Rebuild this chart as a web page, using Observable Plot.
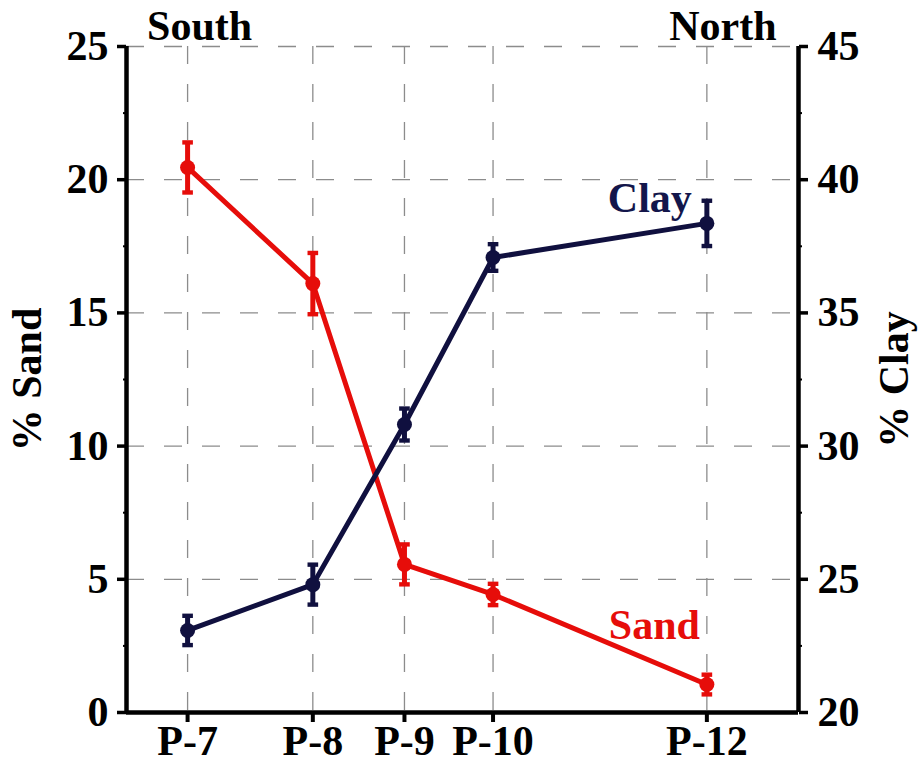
<!DOCTYPE html>
<html>
<head>
<meta charset="utf-8">
<script src="https://cdn.jsdelivr.net/npm/d3@7"></script>
<script src="https://cdn.jsdelivr.net/npm/@observablehq/plot@0.6"></script>
<style>
  html, body { margin: 0; padding: 0; background: #fff; }
  #chart svg { display: block; }
</style>
</head>
<body>
<div id="chart"></div>
<script>
// ---- data ----
const stations   = ["P-7", "P-8", "P-9", "P-10", "P-12"];
const stationPos = [1, 3.05, 4.55, 6, 9.5];          // relative distance along transect
const sandMean   = [20.46, 16.1, 5.56, 4.43, 1.05];   // % Sand (left axis)
const sandErr    = [0.94, 1.15, 0.75, 0.4, 0.37];
const clayMean   = [23.08, 24.8, 30.81, 37.08, 38.36]; // % Clay (right axis)
const clayErr    = [0.55, 0.75, 0.6, 0.5, 0.85];
const sandTicks  = [0, 5, 10, 15, 20, 25];
const clayTicks  = [20, 25, 30, 35, 40, 45];
const minorTicks = [2.5, 7.5, 12.5, 17.5, 22.5];
const clayOffset = clayTicks[0] - sandTicks[0];        // right axis = left axis + 20
const xDomain    = [0, 11];
const endLabels  = ["South", "North"];

const RED = "#e60d0a";
const NAVY = "#10103f";
const FONT = "'Liberation Serif', 'Times New Roman', serif";

const sand = stations.map((s, i) => ({s, x: stationPos[i], y: sandMean[i], lo: sandMean[i] - sandErr[i], hi: sandMean[i] + sandErr[i]}));
const clay = stations.map((s, i) => ({s, x: stationPos[i], y: clayMean[i] - clayOffset, lo: clayMean[i] - clayErr[i] - clayOffset, hi: clayMean[i] + clayErr[i] - clayOffset}));

// horizontal cap symbol for error bars
const capSymbol = {
  draw(ctx, size) {
    const w = Math.sqrt(size) / 2, h = 2.2;
    ctx.moveTo(-w, -h); ctx.lineTo(w, -h); ctx.lineTo(w, h); ctx.lineTo(-w, h); ctx.closePath();
  }
};

const axisText = {fontSize: 42, fontWeight: "bold", fontFamily: FONT};

const chart = Plot.plot({
  width: 922,
  height: 768,
  marginLeft: 126,
  marginRight: 124,
  marginTop: 46,
  marginBottom: 56,
  style: {fontFamily: FONT, fontWeight: "bold", color: "#000", background: "#fff", overflow: "visible"},
  x: {domain: xDomain},
  y: {domain: [sandTicks[0], sandTicks[sandTicks.length - 1]]},
  marks: [
    // dashed grid
    Plot.ruleY(sandTicks.slice(1), {stroke: "#8c8c8c", strokeWidth: 1.3, strokeDasharray: "18,20"}),
    Plot.ruleX(stationPos, {stroke: "#8c8c8c", strokeWidth: 1.3, strokeDasharray: "18,20"}),
    // minor ticks
    Plot.axisY({anchor: "left", ticks: minorTicks, tickSize: 3, text: null, label: null, strokeWidth: 2}),
    Plot.axisY({anchor: "right", ticks: minorTicks, tickSize: 3, text: null, label: null, strokeWidth: 2}),
    // left axis (% Sand)
    Plot.axisY({anchor: "left", ticks: sandTicks, tickSize: 9, tickPadding: 9, strokeWidth: 3.5,
      tickFormat: d => d, label: null, ...axisText}),
    // right axis (% Clay)
    Plot.axisY({anchor: "right", ticks: sandTicks, tickSize: 9, tickPadding: 10, strokeWidth: 3.5,
      tickFormat: d => d + clayOffset, label: null, ...axisText}),
    // x axis
    Plot.axisX({anchor: "bottom", ticks: stationPos, tickSize: 10, tickPadding: 3, strokeWidth: 4,
      tickFormat: (d) => stations[stationPos.indexOf(d)], label: null, ...axisText}),
    // axis lines
    Plot.ruleX([xDomain[0]], {strokeWidth: 4.5, stroke: "#000"}),
    Plot.ruleX([xDomain[1]], {strokeWidth: 4.5, stroke: "#000"}),
    Plot.ruleY([sandTicks[0]], {strokeWidth: 4.5, stroke: "#000"}),
    // Sand series
    Plot.line(sand, {x: "x", y: "y", stroke: RED, strokeWidth: 5}),
    Plot.ruleX(sand, {x: "x", y1: "lo", y2: "hi", stroke: RED, strokeWidth: 5}),
    Plot.dot(sand, {x: "x", y: "lo", symbol: capSymbol, r: 6, fill: RED, stroke: "none"}),
    Plot.dot(sand, {x: "x", y: "hi", symbol: capSymbol, r: 6, fill: RED, stroke: "none"}),
    Plot.dot(sand, {x: "x", y: "y", r: 7.5, fill: RED}),
    // Clay series
    Plot.line(clay, {x: "x", y: "y", stroke: NAVY, strokeWidth: 5}),
    Plot.ruleX(clay, {x: "x", y1: "lo", y2: "hi", stroke: NAVY, strokeWidth: 5}),
    Plot.dot(clay, {x: "x", y: "lo", symbol: capSymbol, r: 6, fill: NAVY, stroke: "none"}),
    Plot.dot(clay, {x: "x", y: "hi", symbol: capSymbol, r: 6, fill: NAVY, stroke: "none"}),
    Plot.dot(clay, {x: "x", y: "y", r: 7.5, fill: NAVY}),
    // series labels
    Plot.text([clay[clay.length - 1]], {x: "x", y: "y", text: () => "Clay", textAnchor: "end", dx: -15, dy: -25,
      fill: "#13164b", ...axisText}),
    Plot.text([sand[sand.length - 1]], {x: "x", y: "y", text: () => "Sand", textAnchor: "end", dx: -7, dy: -59,
      fill: RED, ...axisText}),
    // South / North
    Plot.text([stationPos[0]], {x: d => d, y: () => sandTicks[sandTicks.length - 1], text: () => endLabels[0],
      ...axisText, dx: 12, dy: -20}),
    Plot.text([stationPos[stationPos.length - 1]], {x: d => d, y: () => sandTicks[sandTicks.length - 1], text: () => endLabels[1],
      ...axisText, dx: 16, dy: -20}),
    // axis titles
    Plot.text(["% Sand"], {frameAnchor: "left", textAnchor: "middle", text: d => d, rotate: -90, dx: -99, dy: 0, ...axisText}),
    Plot.text(["% Clay"], {frameAnchor: "right", textAnchor: "middle", text: d => d, rotate: -90, dx: 96, dy: 0, ...axisText})
  ]
});
document.getElementById("chart").append(chart);
</script>
</body>
</html>
